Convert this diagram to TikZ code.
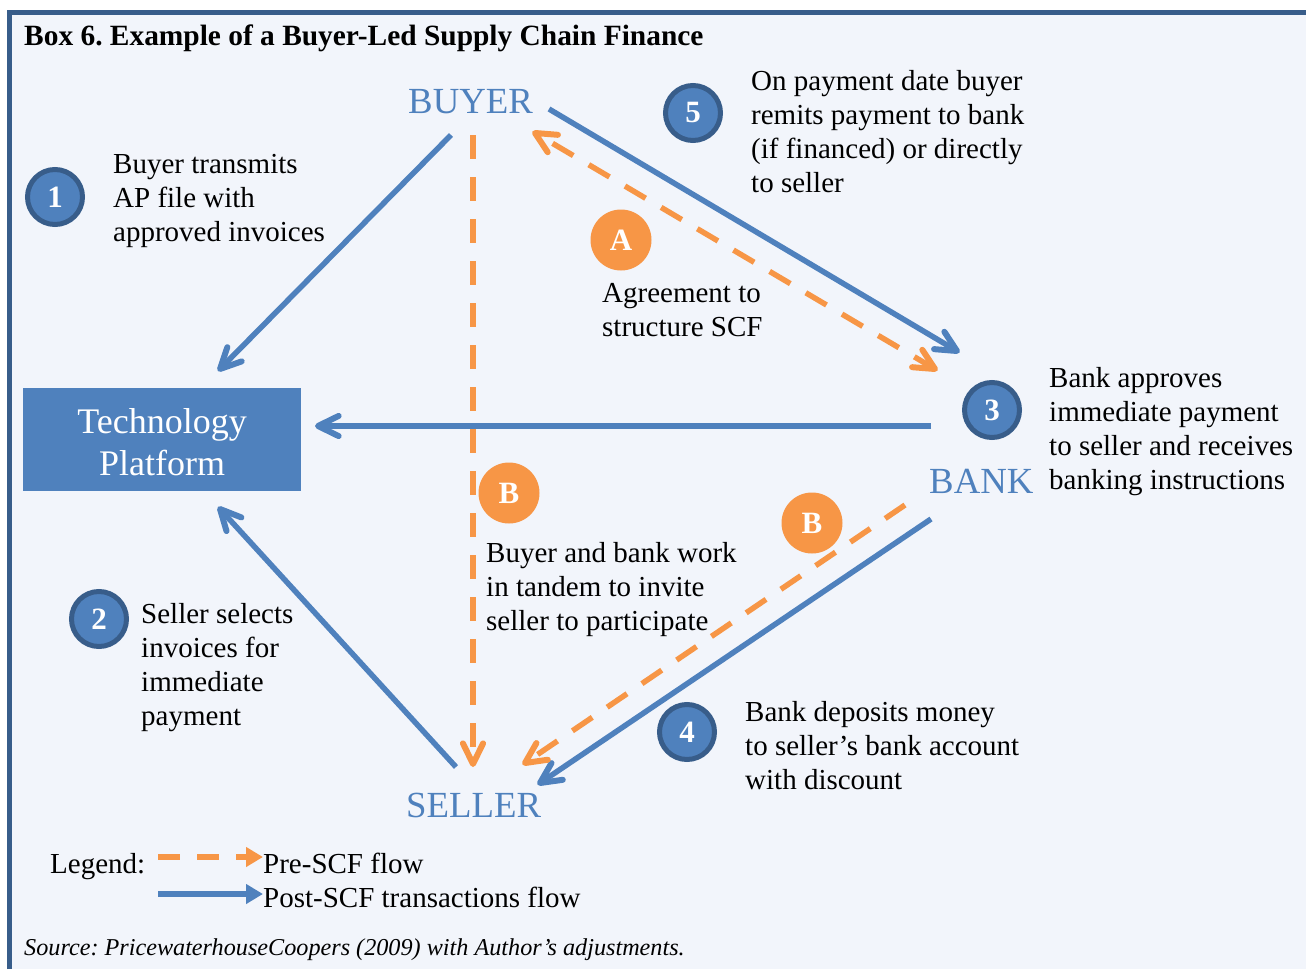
\documentclass[tikz,border=0pt]{standalone}
\usepackage{fontspec}
\setmainfont{Liberation Serif}
\usetikzlibrary{arrows.meta,calc}
\definecolor{boxblue}{HTML}{4F81BD}
\definecolor{darkblue}{HTML}{385D8A}
\definecolor{orng}{HTML}{F79646}
\definecolor{bgfill}{HTML}{F2F5FB}
\newcommand{\barbhead}[3]{\draw[#3, line width=6pt, line cap=round, line join=round, solid] ($(#1)!23pt!26:(#2)$) -- (#1) -- ($(#1)!23pt!-26:(#2)$);}
\frenchspacing
\begin{document}
\frenchspacing
\begin{tikzpicture}[x=1pt,y=-1pt,
  bodytext/.style={font=\fontsize{29}{34}\selectfont, align=left, anchor=north west, inner sep=0pt, text=black},
  party/.style={font=\fontsize{36.8}{40}\selectfont, text=boxblue, inner sep=0pt, anchor=base west},
  numcirc/.style={circle, fill=boxblue, draw=darkblue, line width=5pt, minimum size=55pt, inner sep=0pt, text=white, font=\bfseries\fontsize{31}{32}\selectfont},
  letcirc/.style={circle, fill=orng, minimum size=61pt, inner sep=0pt, text=white, font=\bfseries\fontsize{31}{32}\selectfont},
  postflow/.style={draw=boxblue, line width=5.5pt, shorten >=2pt},
  preflow/.style={draw=orng, line width=5.5pt, dash pattern=on 24pt off 18pt},
  legpre/.style={draw=orng, line width=5.5pt, dash pattern=on 22pt off 17pt, -{Triangle[length=17pt,width=19pt]}},
  legpost/.style={draw=boxblue, line width=5.5pt, -{Triangle[length=17pt,width=19pt]}},
]
% canvas and frame
\fill[white] (0,0) rectangle (1306,969);
\useasboundingbox (0,0) rectangle (1306,969);
\fill[bgfill] (9,12) rectangle (1306,969);
\draw[darkblue, line width=5pt] (9,969) -- (9,12) -- (1306,12);

% title
\node[anchor=base west, inner sep=0pt, font=\bfseries\fontsize{29.4}{34}\selectfont] (title) at (24,45) {Box 6. Example of a Buyer-Led Supply Chain Finance};

% parties
\node[party] (buyer) at (408,113) {BUYER};
\node[party] (seller) at (406,817) {SELLER};
\node[party] (bank) at (929,493) {BANK};
\node[rectangle, fill=boxblue, minimum width=278pt, minimum height=103pt, inner sep=0pt, text=white, align=center, font=\fontsize{36}{42}\selectfont] (tech) at (162,439.5) {\rule{0pt}{31pt}Technology\\Platform};

% connector end points
\coordinate (buyerA) at (451,135);
\coordinate (techA) at (220,369);
\coordinate (sellerA) at (456,767);
\coordinate (techB) at (220,509);
\coordinate (bankA) at (931,426);
\coordinate (techC) at (318,426);
\coordinate (buyerB) at (549,109);
\coordinate (bankB) at (957,351);
\coordinate (bankC) at (931,519);
\coordinate (sellerB) at (540,783);
\coordinate (bankD) at (935,369);
\coordinate (buyerC) at (535,133);
\coordinate (buyerD) at (473,135);
\coordinate (sellerC) at (473,764);
\coordinate (bankE) at (905,505);
\coordinate (sellerD) at (525,763);

% post-SCF flows
\draw[postflow] (buyerA) -- (techA);
\barbhead{techA}{buyerA}{boxblue}
\draw[postflow] (sellerA) -- (techB);
\barbhead{techB}{sellerA}{boxblue}
\draw[postflow] (bankA) -- (techC);
\barbhead{techC}{bankA}{boxblue}
\draw[postflow] (buyerB) -- (bankB);
\barbhead{bankB}{buyerB}{boxblue}
\draw[postflow] (bankC) -- (sellerB);
\barbhead{sellerB}{bankC}{boxblue}

% pre-SCF flows
\draw[preflow] (bankD) -- (buyerC);
\barbhead{buyerC}{bankD}{orng}
\barbhead{bankD}{buyerC}{orng}
\draw[preflow] (buyerD) -- (sellerC);
\barbhead{sellerC}{buyerD}{orng}
\draw[preflow] (bankE) -- (sellerD);
\barbhead{sellerD}{bankE}{orng}

% numbered circles
\node[numcirc] (c1) at (55,197) {1};
\node[numcirc] (c2) at (99,619) {2};
\node[numcirc] (c3) at (992,410) {3};
\node[numcirc] (c4) at (687,732) {4};
\node[numcirc] (c5) at (693,113) {5};
\node[letcirc] (cA) at (621,240) {A};
\node[letcirc] (cB1) at (509,493) {B};
\node[letcirc] (cB2) at (812,523) {B};

% descriptions
\node[bodytext] (t1) at (113,149.2) {\strut Buyer transmits\\AP file with\\approved invoices};
\node[bodytext] (t5) at (751,66.2) {\strut On payment date buyer\\remits payment to bank\\(if financed) or directly\\to seller};
\node[bodytext] (tA) at (602,278.2) {\strut Agreement to\\structure SCF};
\node[bodytext] (t3) at (1049,363.2) {\strut Bank approves\\immediate payment\\to seller and receives\\banking instructions};
\node[bodytext] (tB) at (486,538.2) {\strut Buyer and bank work\\in tandem to invite\\seller to participate};
\node[bodytext] (t2) at (141,599.2) {\strut Seller selects\\invoices for\\immediate\\payment};
\node[bodytext] (t4) at (745,697.2) {\strut Bank deposits money\\to seller’s bank account\\with discount};

% legend
\node[anchor=base west, inner sep=0pt, font=\fontsize{29}{34}\selectfont] (leg) at (50,873) {Legend:};
\node[anchor=base west, inner sep=0pt, font=\fontsize{29}{34}\selectfont] (legpretext) at (263,873) {Pre-SCF flow};
\node[anchor=base west, inner sep=0pt, font=\fontsize{29}{34}\selectfont] (legposttext) at (263,907) {Post-SCF transactions flow};
\coordinate (lp1) at (158,857);
\coordinate (lp2) at (158,894);
\draw[legpre] (lp1) -- (legpretext.west |- lp1);
\draw[legpost] (lp2) -- (legposttext.west |- lp2);

% source
\node[anchor=base west, inner sep=0pt, font=\itshape\fontsize{24.2}{28}\selectfont] (src) at (24,955) {Source: PricewaterhouseCoopers (2009) with Author’s adjustments.};
\end{tikzpicture}
\end{document}
